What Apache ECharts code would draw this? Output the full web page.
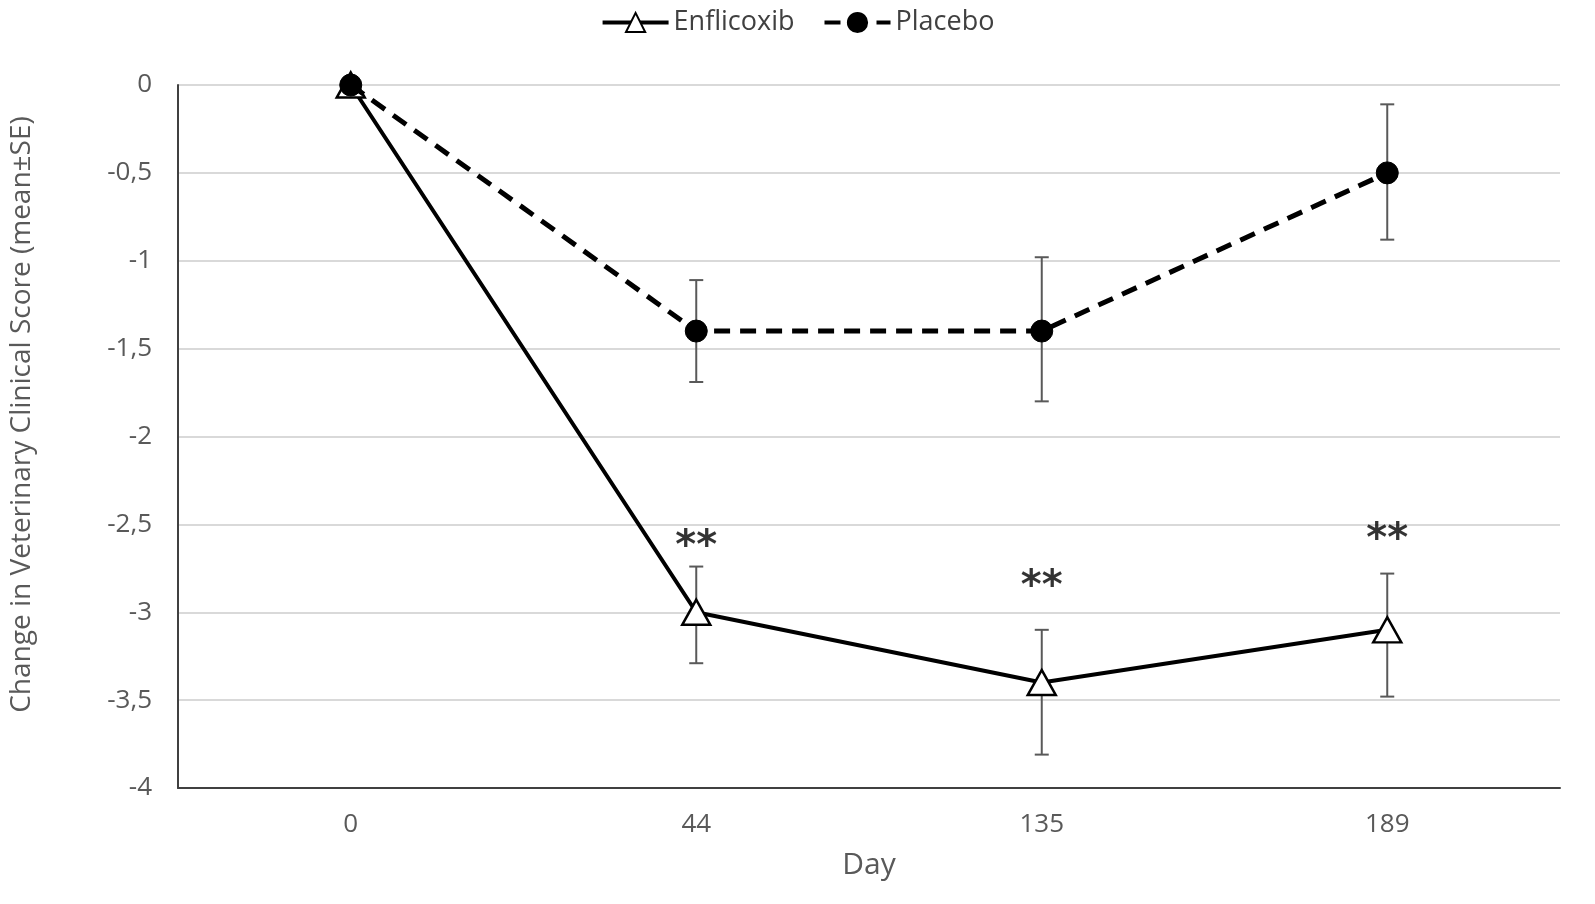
<!DOCTYPE html>
<html lang="en">
<head>
<meta charset="utf-8">
<script src="https://cdn.jsdelivr.net/npm/echarts@6/dist/echarts.min.js"></script>
<style>
  * { margin: 0; padding: 0; }
  body { background: #fff; }
</style>
</head>
<body>
<div id="main" style="width:1595px;height:904px;"></div>
<script>
// data
var days = ['0', '44', '135', '189'];

var enflicoxib = [0, -3.0, -3.4, -3.1];
var enflicoxibLow = [0, -3.29, -3.81, -3.48];
var enflicoxibHigh = [0, -2.74, -3.10, -2.78];

var placebo = [0, -1.4, -1.4, -0.5];
var placeboLow = [0, -1.69, -1.80, -0.88];
var placeboHigh = [0, -1.11, -0.98, -0.11];

// where the "**" marks sit (y value), null = no mark
var starPos = [null, -2.63, -2.86, -2.59];

var fontFam = '"Open Sans", "Noto Sans", sans-serif';

function errorData(low, high) {
    var out = [];
    for (var i = 0; i < days.length; i++) {
        if (low[i] !== high[i]) out.push([i, low[i], high[i]]);
    }
    return out;
}

function renderError(params, api) {
    var x = api.value(0);
    var lo = api.coord([x, api.value(1)]);
    var hi = api.coord([x, api.value(2)]);
    var w = 7;
    var st = { stroke: '#595959', lineWidth: 2 };
    return {
        type: 'group',
        children: [
            { type: 'line', shape: { x1: lo[0], y1: lo[1], x2: hi[0], y2: hi[1] }, style: st },
            { type: 'line', shape: { x1: lo[0] - w, y1: lo[1], x2: lo[0] + w, y2: lo[1] }, style: st },
            { type: 'line', shape: { x1: hi[0] - w, y1: hi[1], x2: hi[0] + w, y2: hi[1] }, style: st }
        ]
    };
}

var starData = [];
starPos.forEach(function (v, i) {
    if (v !== null) starData.push([i, v]);
});

var myChart = echarts.init(document.getElementById('main'));

var option = {
    animation: false,
    textStyle: { fontFamily: fontFam },
    legend: {
        top: 4,
        left: 'center',
        itemWidth: 66,
        itemHeight: 24,
        itemGap: 28,
        lineStyle: { width: 4 },
        data: ['Enflicoxib', 'Placebo'],
        textStyle: { fontSize: 27, color: '#404040', fontFamily: fontFam }
    },
    grid: { left: 170, right: 35, top: 85, bottom: 116, containLabel: false },
    xAxis: {
        type: 'category',
        data: days,
        boundaryGap: true,
        name: 'Day',
        nameLocation: 'middle',
        nameGap: 62,
        nameTextStyle: { fontSize: 30, color: '#595959' },
        axisLine: { onZero: false, lineStyle: { color: '#404040', width: 2 } },
        axisTick: { show: false },
        axisLabel: { fontSize: 26, color: '#595959', margin: 24 }
    },
    yAxis: {
        type: 'value',
        min: -4,
        max: 0,
        interval: 0.5,
        name: 'Change in Veterinary Clinical Score (mean±SE)',
        nameLocation: 'middle',
        nameGap: 142,
        nameTextStyle: { fontSize: 28, color: '#595959', padding: [0, 0, 0, 44] },
        axisLine: { show: true, lineStyle: { color: '#404040', width: 2 } },
        axisTick: { show: false },
        axisLabel: {
            fontSize: 26,
            color: '#595959',
            margin: 26,
            formatter: function (v) { return String(v).replace('.', ','); }
        },
        splitLine: { lineStyle: { color: '#d9d9d9', width: 2 } }
    },
    series: [
        {
            name: 'Enflicoxib err',
            type: 'custom',
            renderItem: renderError,
            data: errorData(enflicoxibLow, enflicoxibHigh),
            encode: { x: 0, y: [1, 2] },
            z: 1,
            silent: true
        },
        {
            name: 'Placebo err',
            type: 'custom',
            renderItem: renderError,
            data: errorData(placeboLow, placeboHigh),
            encode: { x: 0, y: [1, 2] },
            z: 1,
            silent: true
        },
        {
            name: 'Placebo',
            type: 'line',
            data: placebo,
            symbol: 'circle',
            symbolSize: 22,
            lineStyle: { color: '#000', width: 5, type: [16, 10] },
            itemStyle: { color: '#000', borderColor: '#000', borderWidth: 1 },
            z: 3
        },
        {
            name: 'Enflicoxib',
            type: 'line',
            data: enflicoxib,
            symbol: 'triangle',
            symbolSize: [28, 25],
            lineStyle: { color: '#000', width: 4 },
            itemStyle: { color: '#fff', borderColor: '#000', borderWidth: 2.5 },
            z: 2
        },
        {
            name: 'stars',
            type: 'scatter',
            data: starData,
            symbolSize: 1,
            itemStyle: { color: 'rgba(0,0,0,0)' },
            label: {
                show: true,
                position: 'inside',
                formatter: '**',
                fontSize: 40,
                fontWeight: 'bold',
                color: '#000',
                fontFamily: 'DejaVu Sans',
                padding: [12, 0, 0, 0]
            },
            silent: true,
            z: 4
        }
    ]
};

myChart.setOption(option);
</script>
</body>
</html>
